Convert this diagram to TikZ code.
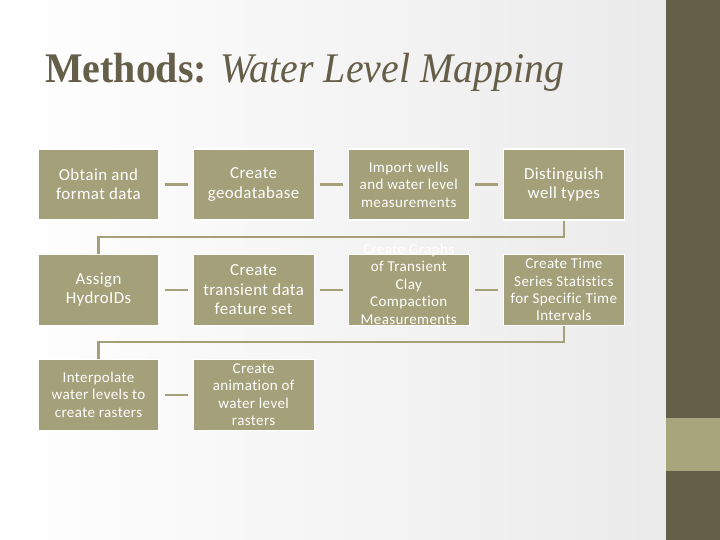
\documentclass[tikz,border=0pt]{standalone}
\usepackage{fontspec}
\usepackage{graphicx}
\usetikzlibrary{positioning}
\newfontfamily\boxfont[LetterSpace=2.5, Ligatures=NoCommon]{Carlito}
\newfontfamily\titlefont{Liberation Serif}
\definecolor{boxkhaki}{RGB}{164,160,122}
\definecolor{stripebrown}{RGB}{101,94,72}
\definecolor{bandkhaki}{RGB}{168,165,125}

\begin{document}
\begin{tikzpicture}[node distance=0.825cm and 0.825cm,
	stepbox/.style={rectangle, fill=boxkhaki, draw=white, line width=0.8pt, minimum width=3.025cm, minimum height=1.775cm, inner sep=1pt, align=center, text=white, font=\boxfont\fontsize{12}{13.7}\selectfont},
	smalltext/.style={font=\boxfont\fontsize{10.7}{12.4}\selectfont},
	link/.style={draw=boxkhaki, line width=1.5pt, shorten >=0.125cm, shorten <=0.125cm}]
    \useasboundingbox (0,0) rectangle (18,-13.5);
    \shade[left color=white, right color=black!8] (0,0) rectangle (16.65,-13.5);
    \fill[stripebrown] (16.65,0) rectangle (18,-13.5);
    \fill[bandkhaki] (16.65,-10.45) rectangle (18,-11.775);
    \node[anchor=base west, inner sep=0pt, text=stripebrown, font=\titlefont\fontsize{30}{36}\selectfont] (title) at (1.125,-2.05) {\scalebox{0.945}[1]{\textbf{Methods:} \textit{Water Level Mapping}}};
    \node[stepbox] (obtain) at (2.4625,-4.6125) {Obtain and\\format data};
    \node[stepbox, right=of obtain] (geodb) {Create\\geodatabase};
    \node[stepbox, smalltext, right=of geodb] (import) {Import wells\\and water level\\measurements};
    \node[stepbox, right=of import] (distinguish) {Distinguish\\well types};
    \node[stepbox, below=of obtain] (assign) {Assign\\HydroIDs};
    \node[stepbox, right=of assign] (transient) {Create\\transient data\\feature set};
    \node[stepbox, smalltext, right=of transient] (graphs) {\smash{\begin{tabular}{@{}c@{}}Create Graphs\\of Transient\\Clay\\Compaction\\Measurements\end{tabular}}};
    \node[stepbox, smalltext, right=of graphs] (stats) {Create Time\\Series Statistics\\for Specific Time\\Intervals};
    \node[stepbox, smalltext, below=of assign] (interp) {Interpolate\\water levels to\\create rasters};
    \node[stepbox, smalltext, right=of interp] (anim) {Create\\animation of\\water level\\rasters};
    \draw[link] (obtain) -- (geodb);
    \draw[link] (geodb) -- (import);
    \draw[link] (import) -- (distinguish);
    \draw[link] (assign) -- (transient);
    \draw[link] (transient) -- (graphs);
    \draw[link] (graphs) -- (stats);
    \draw[link] (interp) -- (anim);
    \draw[link, shorten >=0pt, shorten <=0pt] (distinguish.south) -- ++(0,-0.41) -| (assign.north);
    \draw[link, shorten >=0pt, shorten <=0pt] (stats.south) -- ++(0,-0.41) -| (interp.north);
\end{tikzpicture}
\end{document}
